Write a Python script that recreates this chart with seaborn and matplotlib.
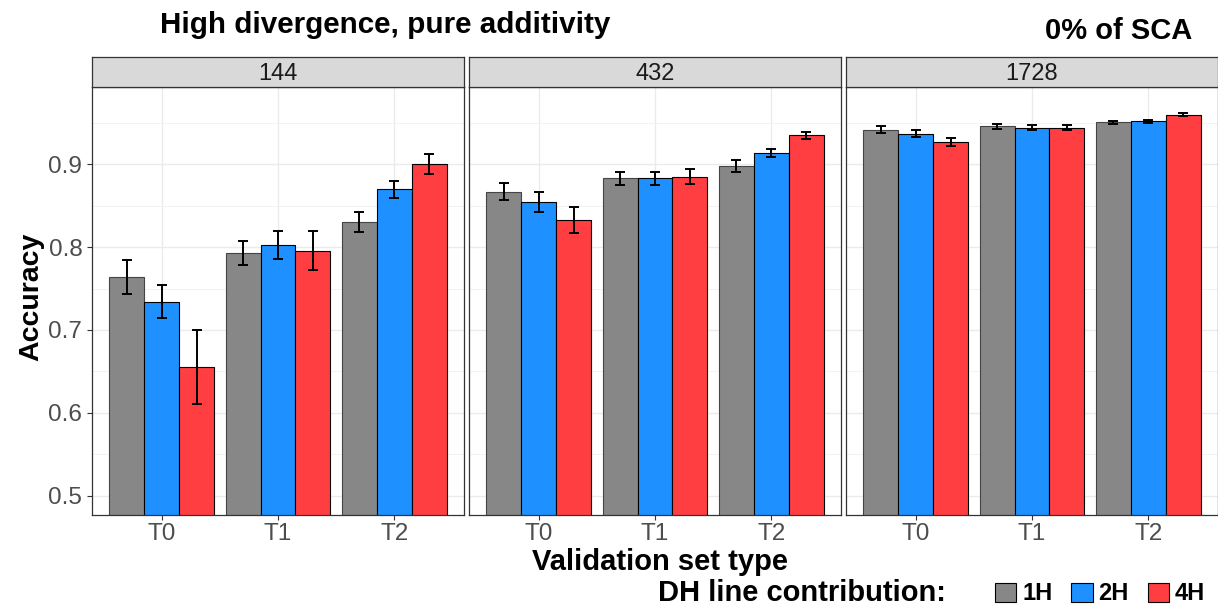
import numpy as np
import pandas as pd
import matplotlib
matplotlib.use("Agg")
import matplotlib.pyplot as plt
import seaborn as sns

# values
panels = ["144", "432", "1728"]
set_types = ["T0", "T1", "T2"]
dh_levels = ["1H", "2H", "4H"]
colors = ["#878787", "#1E90FF", "#FF3E41"]

# accuracy per panel, rows = T0/T1/T2, cols = 1H/2H/4H
acc_144 = [[0.764, 0.734, 0.655],
           [0.793, 0.803, 0.796],
           [0.830, 0.870, 0.901]]
err_144 = [[0.020, 0.020, 0.045],
           [0.015, 0.017, 0.024],
           [0.012, 0.010, 0.012]]
acc_432 = [[0.867, 0.855, 0.833],
           [0.883, 0.883, 0.885],
           [0.898, 0.914, 0.935]]
err_432 = [[0.010, 0.012, 0.016],
           [0.008, 0.008, 0.009],
           [0.007, 0.005, 0.004]]
acc_1728 = [[0.942, 0.937, 0.927],
            [0.946, 0.944, 0.944],
            [0.951, 0.952, 0.960]]
err_1728 = [[0.004, 0.004, 0.005],
            [0.003, 0.003, 0.003],
            [0.002, 0.002, 0.0015]]

acc = {"144": acc_144, "432": acc_432, "1728": acc_1728}
err = {"144": err_144, "432": err_432, "1728": err_1728}

rows = []
for p in panels:
    for i, t in enumerate(set_types):
        for j, h in enumerate(dh_levels):
            rows.append({"panel": p, "type": t, "dh": h,
                         "acc": acc[p][i][j], "err": err[p][i][j]})
df = pd.DataFrame(rows)

sns.set_style("white")
plt.rcParams["font.family"] = ["Liberation Sans", "DejaVu Sans"]
plt.rcParams["text.color"] = "black"

W, H = 1218, 608
fig = plt.figure(figsize=(W / 100, H / 100), dpi=100)

lefts = [92, 469, 846]
pw = 372
top, bottom = 87, 515
strip_h = 30
ylim = (0.4765, 0.9935)

for k, p in enumerate(panels):
    ax = fig.add_axes([lefts[k] / W, 1 - bottom / H, pw / W, (bottom - top) / H])
    sub = df[df["panel"] == p]
    sns.barplot(data=sub, x="type", y="acc", hue="dh", order=set_types,
                hue_order=dh_levels, palette=colors, saturation=1,
                width=0.9, gap=0, errorbar=None, edgecolor="black",
                linewidth=0.8, legend=(k == 0), ax=ax)
    bar_conts = list(ax.containers)
    # error bars centred on the bars seaborn drew
    for j, cont in enumerate(bar_conts):
        sj = sub[sub["dh"] == dh_levels[j]].set_index("type").loc[set_types]
        xs = [b.get_x() + b.get_width() / 2 for b in cont]
        ax.errorbar(xs, sj["acc"].values, yerr=sj["err"].values, fmt="none",
                    ecolor="black", elinewidth=1.4, capsize=3.5, capthick=1.4,
                    zorder=5)
        if j == 0:
            for b in cont:
                b.set_edgecolor("#444444")
    ax.set_xlim(-0.6, 2.6)
    ax.set_ylim(*ylim)
    ax.set_yticks([0.5, 0.6, 0.7, 0.8, 0.9])
    ax.set_yticks([0.55, 0.65, 0.75, 0.85, 0.95], minor=True)
    ax.grid(True, which="major", color="#EBEBEB", linewidth=1.0)
    ax.grid(True, which="minor", axis="y", color="#F2F2F2", linewidth=0.7)
    ax.set_axisbelow(True)
    ax.set_xlabel("")
    ax.set_ylabel("")
    ax.tick_params(axis="both", which="major", length=3.5, color="#333333",
                   labelsize=17.5, labelcolor="#4D4D4D", direction="out",
                   bottom=True, left=(k == 0))
    ax.tick_params(axis="x", pad=2.5)
    ax.tick_params(axis="y", which="minor", length=0)
    if k > 0:
        ax.set_yticklabels([])
    for s in ax.spines.values():
        s.set_color("#333333")
        s.set_linewidth(0.9)
    if k == 0:
        handles, labels = ax.get_legend_handles_labels()
        ax.get_legend().remove()
    # facet strip
    sax = fig.add_axes([lefts[k] / W, 1 - top / H, pw / W, strip_h / H])
    sax.set_facecolor("#D9D9D9")
    sax.set_xticks([])
    sax.set_yticks([])
    for s in sax.spines.values():
        s.set_color("#333333")
        s.set_linewidth(0.9)
    sax.text(0.5, 0.45, p, ha="center", va="center", fontsize=17,
             color="#1A1A1A", transform=sax.transAxes)

fig.text(160 / W, 1 - 25 / H, "High divergence, pure additivity",
         fontsize=21.3, fontweight="bold", ha="left", va="center")
fig.text(1192 / W, 1 - 31 / H, "0% of SCA", fontsize=21,
         fontweight="bold", ha="right", va="center")
fig.text(31 / W, 1 - 297 / H, "Accuracy", fontsize=20.5, fontweight="bold",
         rotation=90, ha="center", va="center")
fig.text(660 / W, 1 - 562 / H, "Validation set type", fontsize=21,
         fontweight="bold", ha="center", va="center")
fig.text(946 / W, 1 - 593 / H, "DH line contribution:", fontsize=21,
         fontweight="bold", ha="right", va="center")
fig.legend(handles, labels, loc="center left", ncol=3,
           bbox_to_anchor=(995 / W, 1 - 594 / H), frameon=False,
           prop={"size": 17, "weight": "bold"}, handlelength=0.9,
           handleheight=0.9, handletextpad=0.25, columnspacing=0.8,
           borderpad=0, borderaxespad=0)

fig.savefig("out.png", dpi=100)
